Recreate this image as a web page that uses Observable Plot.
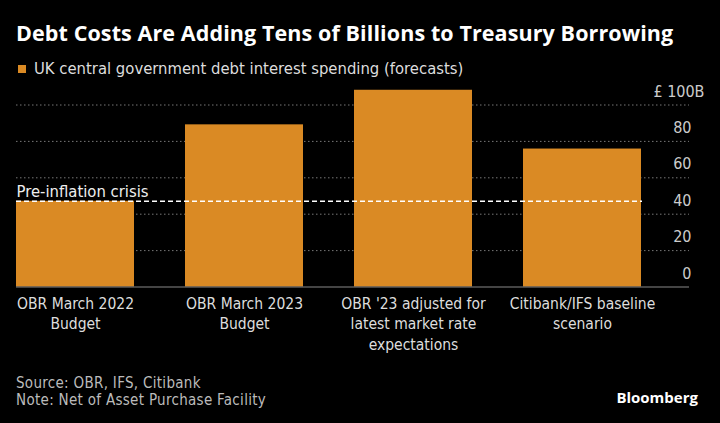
<!DOCTYPE html>
<html>
<head>
<meta charset="utf-8">
<script src="https://cdn.jsdelivr.net/npm/d3@7"></script>
<script src="https://cdn.jsdelivr.net/npm/@observablehq/plot@0.6"></script>
<style>
  html, body { margin: 0; padding: 0; background: #000; }
  body { width: 720px; height: 423px; position: relative; overflow: hidden; font-family: "Liberation Sans Narrow", "DejaVu Sans Condensed", sans-serif; }
  #title { position: absolute; left: 16px; top: 18px; color: #fff; font: bold 21.5px "Open Sans", sans-serif; letter-spacing: 0.1px; white-space: nowrap; }
  #legend { position: absolute; left: 18px; top: 59px; color: #ddd; font-size: 16.5px; white-space: nowrap; display: flex; align-items: center; }
  #legend .sw { display: inline-block; width: 8px; height: 8px; background: #DA8A24; margin-right: 8px; }
  #chart { position: absolute; left: 0; top: 80px; }
  #footer { position: absolute; left: 16px; top: 375px; color: #bbb; font-size: 15px; letter-spacing: 0.3px; line-height: 16.5px; }
  #footer div { height: 16.5px; white-space: nowrap; }
  #brand { position: absolute; right: 22px; top: 387px; color: #fff; font: bold 15px "Open Sans", sans-serif; }
</style>
</head>
<body>
<div id="title">Debt Costs Are Adding Tens of Billions to Treasury Borrowing</div>
<div id="legend"><span class="sw"></span>UK central government debt interest spending (forecasts)</div>
<div id="chart"></div>
<div id="footer"><div>Source: OBR, IFS, Citibank</div><div>Note: Net of Asset Purchase Facility</div></div>
<div id="brand">Bloomberg</div>
<script>
const categories = ["OBR March 2022 Budget", "OBR March 2023 Budget", "OBR '23 adjusted for latest market rate expectations", "Citibank/IFS baseline scenario"];
const tickLabels = ["OBR March 2022\nBudget", "OBR March 2023\nBudget", "OBR '23 adjusted for\nlatest market rate\nexpectations", "Citibank/IFS baseline\nscenario"];
const values = [47.1, 89.1, 108.1, 75.8];
const yTicks = [0, 20, 40, 60, 80];
const preInflation = 47.1;
const preInflationLabel = "Pre-inflation crisis";

const data = categories.map((c, i) => ({category: c, value: values[i]}));
const labelOf = new Map(categories.map((c, i) => [c, tickLabels[i]]));
const font = '"Liberation Sans Narrow", "DejaVu Sans Condensed", sans-serif';

const chart = Plot.plot({
  width: 720,
  height: 280,
  marginLeft: 16,
  marginRight: 31,
  marginTop: 24.5,
  marginBottom: 73.5,
  style: {background: "transparent", color: "#ccc", fontFamily: font, fontSize: "16px"},
  x: {domain: categories, range: [16, 642], paddingInner: 0.3, paddingOuter: 0},
  y: {domain: [0, 100]},
  marks: [
    Plot.ruleY([...yTicks.slice(1), 100], {stroke: "#777", strokeWidth: 1, strokeDasharray: "1.5,2.5"}),
    Plot.barY(data, {x: "category", y: "value", fill: "#DA8A24"}),
    Plot.ruleY([0], {stroke: "#888", strokeWidth: 1.2}),
    Plot.ruleY([preInflation], {stroke: "#fff", strokeWidth: 1.5, strokeDasharray: "5,3", insetRight: 47}),
    Plot.text([preInflationLabel], {frameAnchor: "left", y: () => preInflation, text: d => d, textAnchor: "start", lineAnchor: "bottom", dy: -4, fill: "#eee", fontSize: 16.5}),
    Plot.axisY({anchor: "right", ticks: yTicks, tickSize: 0, tickPadding: 2, textAnchor: "end", lineAnchor: "bottom", dy: -8.5, fontSize: 16, fill: "#ccc", label: null}),
    Plot.axisY({anchor: "right", ticks: [100], tickFormat: d => "£ " + d + "B", tickSize: 0, tickPadding: 15, textAnchor: "end", lineAnchor: "bottom", dy: -8.5, fontSize: 16, fill: "#ccc", label: null}),
    Plot.axisX({tickSize: 0, tickPadding: 8, tickFormat: d => labelOf.get(d), lineHeight: 1.3, fontSize: 15.5, fill: "#ddd", label: null})
  ]
});
document.getElementById("chart").appendChild(chart);
</script>
</body>
</html>
